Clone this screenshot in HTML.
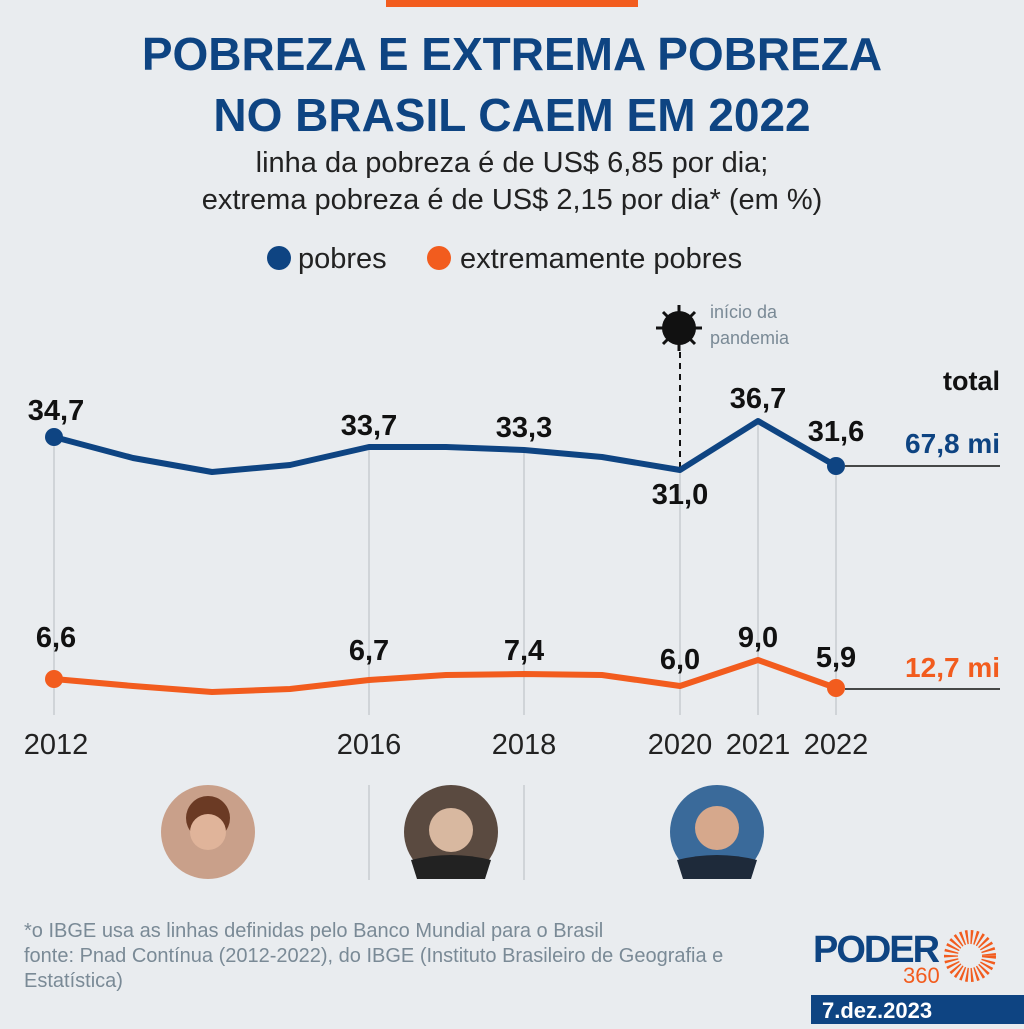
<!DOCTYPE html>
<html><head><meta charset="utf-8"><style>
body{margin:0;width:1024px;height:1024px;background:#e9ecef;overflow:hidden;font-family:"Liberation Sans",sans-serif}
</style></head><body>
<svg width="1024" height="1024" xmlns="http://www.w3.org/2000/svg" font-family="Liberation Sans, sans-serif">
<rect width="1024" height="1024" fill="#e9ecef"/>
<rect x="386" y="0" width="252" height="7" fill="#f25c1e"/>
<text x="512" y="70" text-anchor="middle" font-size="46" font-weight="bold" fill="#0e4482">POBREZA E EXTREMA POBREZA</text>
<text x="512" y="131" text-anchor="middle" font-size="46" font-weight="bold" fill="#0e4482">NO BRASIL CAEM EM 2022</text>
<text x="512" y="172" text-anchor="middle" font-size="29" fill="#222">linha da pobreza é de US$ 6,85 por dia;</text>
<text x="512" y="209" text-anchor="middle" font-size="29" fill="#222">extrema pobreza é de US$ 2,15 por dia* (em %)</text>
<circle cx="279" cy="258" r="12" fill="#0e4482"/>
<text x="298" y="268" font-size="29" fill="#222">pobres</text>
<circle cx="439" cy="258" r="12" fill="#f25c1e"/>
<text x="460" y="268" font-size="29" fill="#222">extremamente pobres</text>
<g stroke="#c8ccd0" stroke-width="1.5">
<line x1="54" y1="437" x2="54" y2="715"/><line x1="369" y1="447" x2="369" y2="715"/>
<line x1="524" y1="450" x2="524" y2="715"/><line x1="680" y1="470" x2="680" y2="715"/>
<line x1="758" y1="421" x2="758" y2="715"/><line x1="836" y1="466" x2="836" y2="715"/>
<line x1="369" y1="785" x2="369" y2="880"/><line x1="524" y1="785" x2="524" y2="880"/>
</g>
<line x1="680" y1="352" x2="680" y2="468" stroke="#111" stroke-width="2" stroke-dasharray="6,5"/>
<circle cx="679" cy="328" r="17" fill="#111"/>
<g stroke="#111" stroke-width="3">
<line x1="679" y1="305" x2="679" y2="351"/><line x1="656" y1="328" x2="702" y2="328"/>
<line x1="663" y1="312" x2="695" y2="344"/><line x1="695" y1="312" x2="663" y2="344"/>
</g>
<text x="710" y="318" font-size="18" fill="#7a8a96">início da</text>
<text x="710" y="344" font-size="18" fill="#7a8a96">pandemia</text>
<text x="1000" y="390" text-anchor="end" font-size="27" font-weight="bold" fill="#111">total</text>
<polyline fill="none" stroke="#0e4482" stroke-width="6" stroke-linejoin="round" points="54,437 133,458 212,472 290,465 369,447 446,447 524,450 602,457 680,470 758,421 836,466"/>
<circle cx="54" cy="437" r="9" fill="#0e4482"/><circle cx="836" cy="466" r="9" fill="#0e4482"/>
<line x1="845" y1="466" x2="1000" y2="466" stroke="#111" stroke-width="1.5"/>
<polyline fill="none" stroke="#f25c1e" stroke-width="6" stroke-linejoin="round" points="54,679 133,686 212,692 290,689 369,680 446,675 524,674 602,675 680,686 758,660 836,688"/>
<circle cx="54" cy="679" r="9" fill="#f25c1e"/><circle cx="836" cy="688" r="9" fill="#f25c1e"/>
<line x1="845" y1="689" x2="1000" y2="689" stroke="#111" stroke-width="1.5"/>
<g font-size="29" font-weight="bold" fill="#111" text-anchor="middle">
<text x="56" y="420">34,7</text><text x="369" y="435">33,7</text><text x="524" y="437">33,3</text>
<text x="680" y="504">31,0</text><text x="758" y="408">36,7</text><text x="836" y="441">31,6</text>
<text x="56" y="647">6,6</text><text x="369" y="660">6,7</text><text x="524" y="660">7,4</text>
<text x="680" y="669">6,0</text><text x="758" y="647">9,0</text><text x="836" y="667">5,9</text>
</g>
<text x="1000" y="453" text-anchor="end" font-size="28" font-weight="bold" fill="#0e4482">67,8 mi</text>
<text x="1000" y="677" text-anchor="end" font-size="28" font-weight="bold" fill="#f25c1e">12,7 mi</text>
<g font-size="29" fill="#222" text-anchor="middle">
<text x="56" y="754">2012</text><text x="369" y="754">2016</text><text x="524" y="754">2018</text>
<text x="680" y="754">2020</text><text x="758" y="754">2021</text><text x="836" y="754">2022</text>
</g>
<circle cx="208" cy="832" r="47" fill="#c9a08a"/><circle cx="208" cy="818" r="22" fill="#6b3a24"/><circle cx="208" cy="832" r="18" fill="#e0b49a"/>
<circle cx="451" cy="832" r="47" fill="#5a4a40"/><circle cx="451" cy="830" r="22" fill="#d8b8a0"/><path d="M411,860 Q451,850 491,860 L485,879 L417,879Z" fill="#222"/>
<circle cx="717" cy="832" r="47" fill="#3a6a9a"/><circle cx="717" cy="828" r="22" fill="#d6a88c"/><path d="M677,860 Q717,850 757,860 L751,879 L683,879Z" fill="#1e2a3a"/>
<g font-size="20" fill="#7a8a96">
<text x="24" y="937">*o IBGE usa as linhas definidas pelo Banco Mundial para o Brasil</text>
<text x="24" y="962">fonte: Pnad Contínua (2012-2022), do IBGE (Instituto Brasileiro de Geografia e</text>
<text x="24" y="987">Estatística)</text>
</g>
<text x="813" y="962" font-size="38" font-weight="bold" fill="#0e4482" letter-spacing="-2" textLength="125" lengthAdjust="spacingAndGlyphs">PODER</text>
<text x="903" y="983" font-size="22" fill="#f25c1e">360</text>
<circle cx="970" cy="956" r="19" fill="none" stroke="#f25c1e" stroke-width="14" stroke-dasharray="2,2.5"/>
<rect x="811" y="995" width="213" height="29" fill="#0e4482"/>
<text x="822" y="1018" font-size="22" font-weight="bold" fill="#fff">7.dez.2023</text>
</svg>
</body></html>
